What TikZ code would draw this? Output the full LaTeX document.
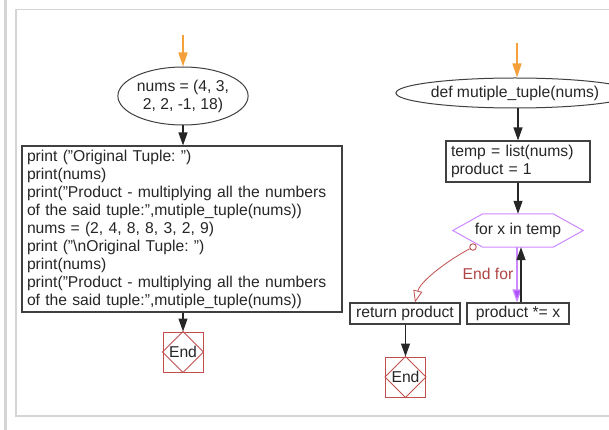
\documentclass[tikz,border=0pt]{standalone}
\usepackage{fontspec}
\setmainfont{Liberation Sans}
\usetikzlibrary{arrows.meta,calc,shapes.geometric}
\definecolor{arrorange}{HTML}{F5A03A}
\definecolor{endred}{HTML}{C0504D}
\definecolor{hexpurple}{HTML}{CC88FF}
\definecolor{arrpurple}{HTML}{B050FF}
\definecolor{framegray}{HTML}{D4D4D4}
\definecolor{linegray}{HTML}{404040}
\definecolor{forred}{HTML}{B04545}
\begin{document}
\begin{tikzpicture}[x=1pt,y=-1pt,
  every node/.style={font=\fontsize{15.7}{18}\selectfont, text=black!85},
  box/.style={draw=linegray, line width=1.1pt, inner ysep=2pt, inner xsep=5pt, align=left},
  smallbox/.style={draw=linegray, line width=1.1pt, inner sep=0pt, minimum height=21pt},
  startell/.style={ellipse, draw=linegray, line width=1pt, inner sep=0pt, align=center},
  endbox/.style={draw=endred, line width=1pt, minimum size=40pt, inner sep=0pt},
  arr/.style={-{Triangle[width=9pt,length=13pt]}, line width=1.2pt, draw=black!85},
  orangearr/.style={-{Triangle[width=9pt,length=14pt]}, line width=1.5pt, draw=arrorange},
  purparr/.style={-{Triangle[width=9pt,length=13pt,fill=arrpurple]}, line width=1.2pt, draw=hexpurple},
  redarr/.style={-{Triangle[open,width=9pt,length=12pt]}, line width=0.8pt, draw=endred},
  framestyle/.style={draw=framegray, line width=1.5pt}
]
\useasboundingbox (0,0) rectangle (609,430);
% frame
\draw[framegray, line width=2.5pt] (5.5,0) -- (5.5,430);
\draw[framestyle] (620,9.5) -- (16,9.5) -- (16,416) -- (620,416);

% left flow
\coordinate (s1) at (183,35);
\node[startell, minimum width=128pt, minimum height=58pt] (n1) at (183,96) {nums = (4, 3,\\2, 2, -1, 18)};
\node[box, text width=310pt, minimum height=166pt] (code) at (182,229) {print ("Original Tuple:~")\\
print(nums)\\
print("Product - multiplying all the numbers\\
of the said tuple:",mutiple\_tuple(nums))\\
nums = (2, 4, 8, 8, 3, 2, 9)\\
print ("\textbackslash nOriginal Tuple:~")\\
print(nums)\\
print("Product - multiplying all the numbers\\
of the said tuple:",mutiple\_tuple(nums))};
\node[endbox] (e1) at (183,352) {End};
\draw[endred, line width=1pt] (e1.north) -- (e1.east) -- (e1.south) -- (e1.west) -- cycle;

\draw[orangearr] (s1) -- (n1.north);
\draw[arr] (n1.south) -- (n1.south |- code.north);
\draw[arr] (code.south -| e1.north) -- (e1.north);

% right flow
\coordinate (s2) at (517,43);
\node[startell, minimum width=185pt, minimum height=30pt] (def) at (515,93) {def mutiple\_tuple(nums)};
\node[box, text width=134pt, minimum height=41pt] (temp) at (518,161.5) {temp = list(nums)\\product = 1};
\node[minimum width=130pt, minimum height=33pt, inner sep=0pt] (for) at (518,230.5) {for x in temp};
\draw[draw=hexpurple, line width=1pt] (for.west) -- ([xshift=30pt]for.north west) -- ([xshift=-30pt]for.north east) -- (for.east) -- ([xshift=-30pt]for.south east) -- ([xshift=30pt]for.south west) -- cycle;
\node[circle, draw=endred, fill=white, line width=0.9pt, minimum size=6.5pt, inner sep=0pt] (c) at (473,247) {};
\node[smallbox, minimum width=110pt] (ret) at (405,313.5) {return product};
\node[smallbox, minimum width=102pt] (prod) at (518,313.5) {product *= x};
\node[text=forred] (ef) at (488,274) {End for};
\node[endbox] (e2) at (405.5,377) {End};
\draw[endred, line width=1pt] (e2.north) -- (e2.east) -- (e2.south) -- (e2.west) -- cycle;

\draw[orangearr] (s2) -- (s2 |- def.north);
\draw[arr] (def.south -| temp.north) -- (temp.north);
\draw[arr] (temp.south) -- (for.south |- for.north);
\draw[purparr] ([xshift=-1pt]for.south) -- ([xshift=-1pt]for.south |- prod.north);
\draw[arr] ([xshift=3pt]prod.north) -- ([xshift=3pt]prod.north |- for.south);
\draw[redarr] (c) .. controls (445,262) and (420,282) .. ([xshift=10pt]ret.north);
\draw[arr] (ret.south -| e2.north) -- (e2.north);
\end{tikzpicture}
\end{document}
